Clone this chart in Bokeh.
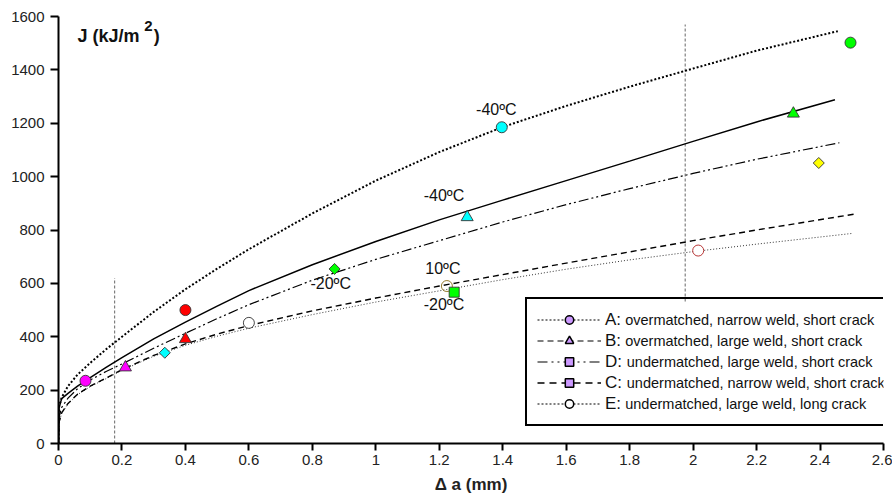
from bokeh.plotting import figure
from bokeh.models import ColumnDataSource, Legend, LegendItem, Label, Range1d, FixedTicker
from bokeh.core.properties import value
from bokeh.embed import file_html
from bokeh.resources import INLINE
import numpy as np

FONT = "Liberation Sans"

# ---------------- data ----------------
# fitted J-R curves (x = crack growth in mm, J in kJ/m^2)
a_A = [0, 0.002, 0.01, 0.03, 0.06, 0.1, 0.15, 0.2, 0.3, 0.4, 0.5, 0.6, 0.8, 1.0, 1.2, 1.4, 1.6, 1.8, 2.0, 2.2, 2.456]
J_A = [0, 140, 172, 215, 258, 302, 353, 400, 493, 578, 655, 728, 862, 985, 1092, 1186, 1265, 1337, 1405, 1472, 1545]

a_B = [0, 0.002, 0.01, 0.03, 0.06, 0.1, 0.15, 0.2, 0.3, 0.4, 0.5, 0.6, 0.8, 1.0, 1.2, 1.4, 1.6, 1.8, 2.0, 2.2, 2.447]
J_B = [0, 135, 168, 188, 215, 247, 285, 322, 392, 455, 515, 573, 670, 757, 838, 912, 985, 1058, 1132, 1205, 1288]

a_D = [0, 0.002, 0.01, 0.03, 0.06, 0.1, 0.15, 0.2, 0.3, 0.4, 0.5, 0.6, 0.8, 1.0, 1.2, 1.4, 1.6, 1.8, 2.0, 2.2, 2.461]
J_D = [0, 100, 135, 170, 205, 238, 270, 298, 357, 413, 468, 520, 612, 690, 760, 830, 895, 955, 1012, 1065, 1127]

a_C = [0, 0.002, 0.01, 0.03, 0.06, 0.1, 0.15, 0.2, 0.3, 0.4, 0.5, 0.6, 0.8, 1.0, 1.2, 1.4, 1.6, 1.8, 2.0, 2.2, 2.516]
J_C = [0, 80, 115, 150, 185, 215, 245, 277, 330, 373, 410, 442, 497, 545, 590, 633, 676, 718, 760, 800, 861]

a_E = [0, 0.002, 0.01, 0.03, 0.06, 0.1, 0.15, 0.2, 0.3, 0.4, 0.5, 0.6, 0.8, 1.0, 1.2, 1.4, 1.6, 1.8, 2.0, 2.2, 2.50]
J_E = [0, 80, 113, 148, 183, 213, 243, 274, 327, 368, 402, 432, 483, 530, 572, 614, 653, 688, 719, 747, 787]

# measured points
pt_a = [0.085, 0.211, 0.335, 0.400, 0.400, 0.600, 0.870, 1.288, 1.224, 1.247, 1.397, 2.016, 2.316, 2.396, 2.496]
pt_J = [235, 285, 340, 500, 391, 452, 654, 848, 590, 567, 1185, 723, 1236, 1051, 1502]
pt_marker = ["circle", "triangle", "square", "circle", "triangle", "circle", "square", "triangle",
             "circle", "square", "circle", "circle", "triangle", "square", "circle"]
pt_fill = ["#ff00ff", "#ff00ff", "#00ffff", "#ff0000", "#ff0000", "#ffffff", "#00ff00", "#00ffff",
           "#ffffff", "#00ff00", "#00ffff", "#ffffff", "#00ff00", "#ffff00", "#00ff00"]
pt_fill_alpha = [1, 1, 1, 1, 1, 1, 1, 1, 0, 1, 1, 1, 1, 1, 1]
pt_line = ["#333333"] * 8 + ["#8a6d1a", "#333333", "#333333", "#b02020", "#333333", "#333333", "#333333"]
pt_size = [11, 12, 7.8, 11, 12, 11, 7.8, 12, 11, 10, 11, 11, 12, 7.8, 11]
pt_angle = [0, 0, np.pi / 4, 0, 0, 0, np.pi / 4, 0, 0, 0, 0, 0, 0, np.pi / 4, 0]

# vertical reference lines (the right one disappears behind the legend box)
vline_a = [0.177, 1.975]
vline_bottom = [0, 532]
vline_top = [620, 1570]

# temperature annotations
ann_a = [1.316, 1.151, 0.794, 1.156, 1.151]
ann_J = [1250, 928, 598, 654, 522]
ann_text = ["-40ºC", "-40ºC", "-20ºC", "10ºC", "-20ºC"]

# axes
x_ticks = [0, 0.2, 0.4, 0.6, 0.8, 1.0, 1.2, 1.4, 1.6, 1.8, 2.0, 2.2, 2.4, 2.6]
x_tick_labels = ["0", "0.2", "0.4", "0.6", "0.8", "1", "1.2", "1.4", "1.6", "1.8", "2", "2.2", "2.4", "2.6"]
y_ticks = [0, 200, 400, 600, 800, 1000, 1200, 1400, 1600]

legend_keys = ["A:", "B:", "D:", "C:", "E:"]
legend_texts = ["overmatched, narrow weld, short crack",
                "overmatched, large weld, short crack",
                "undermatched, large weld, short crack",
                "undermatched, narrow weld, short crack",
                "undermatched, large weld, long crack"]

# ---------------- figure ----------------
p = figure(frame_width=825, frame_height=427,
           x_range=Range1d(0, 2.6), y_range=Range1d(0, 1600),
           output_backend="svg", toolbar_location=None,
           min_border_left=58, min_border_right=9, min_border_top=16, min_border_bottom=57,
           background_fill_color="white", border_fill_color="white", outline_line_color=None)
p.grid.visible = False

for ax in (p.xaxis[0], p.yaxis[0]):
    ax.axis_line_width = 2
    ax.axis_line_color = "black"
    ax.major_tick_line_width = 2
    ax.major_tick_line_color = "black"
    ax.major_tick_in = 0
    ax.minor_tick_line_color = None
    ax.major_label_text_font = FONT
    ax.major_label_text_font_size = "15px"
    ax.major_label_text_color = "#222222"

p.xaxis.ticker = FixedTicker(ticks=x_ticks)
p.xaxis.major_label_overrides = {t: l for t, l in zip(x_ticks, x_tick_labels)}
p.xaxis.major_tick_out = 7
p.xaxis.major_label_standoff = 4
p.xaxis.axis_label = "Δ a (mm)"
p.xaxis.axis_label_text_font = FONT
p.xaxis.axis_label_text_font_style = "bold"
p.xaxis.axis_label_text_font_size = "17px"
p.xaxis.axis_label_text_color = "#222222"
p.xaxis.axis_label_standoff = 7

p.yaxis.ticker = FixedTicker(ticks=y_ticks)
p.yaxis.major_tick_out = 8
p.yaxis.major_label_standoff = 6

# vertical dotted reference lines
p.segment(x0=vline_a, y0=vline_bottom, x1=vline_a, y1=vline_top,
          line_color="#666666", line_width=1, line_dash="3 2")

# curves
p.line(a_E, J_E, line_color="#333333", line_width=1, line_dash="1 2")
p.line(a_C, J_C, line_color="black", line_width=1.4, line_dash="6 4")
p.line(a_D, J_D, line_color="black", line_width=1.2, line_dash="10 3 2 3 2 3")
p.line(a_B, J_B, line_color="black", line_width=1.5)
p.line(a_A, J_A, line_color="black", line_width=2, line_dash="2 2")

# points
src = ColumnDataSource(dict(x=pt_a, y=pt_J, marker=pt_marker, fill=pt_fill, fa=pt_fill_alpha,
                            lc=pt_line, size=pt_size, angle=pt_angle))
p.scatter("x", "y", source=src, marker="marker", fill_color="fill", fill_alpha="fa",
          line_color="lc", line_width=0.9, size="size", angle="angle")

# annotations
for xa, ya, t in zip(ann_a, ann_J, ann_text):
    p.add_layout(Label(x=xa, y=ya, text=t, text_font=FONT, text_font_size="16px",
                       text_color="#111111", text_baseline="alphabetic"))

# y title  J (kJ/m2)
p.add_layout(Label(x=0.06, y=1528, text="J (kJ/m", text_font=FONT, text_font_size="18px",
                   text_font_style="bold", text_color="#111111", text_baseline="alphabetic"))
p.add_layout(Label(x=0.27, y=1563, text="2", text_font=FONT, text_font_size="15px",
                   text_font_style="bold", text_color="#111111", text_baseline="alphabetic"))
p.add_layout(Label(x=0.3, y=1528, text=")", text_font=FONT, text_font_size="18px",
                   text_font_style="bold", text_color="#111111", text_baseline="alphabetic"))

# legend (swatches as drawn in the original legend)
lav = "#cc99ff"
leg_styles = [
    dict(dash="2 2", lw=1.2, marker="circle", angle=0),
    dict(dash="6 4", lw=1.2, marker="triangle", angle=0),
    dict(dash="10 4 2 4 2 4", lw=1.2, marker="square", angle=np.pi / 4),
    dict(dash="7 5", lw=1.6, marker="square", angle=0),
    dict(dash="2 2", lw=1.2, marker="circle", angle=0),
]
items = []
for i, (k, st) in enumerate(zip(legend_keys, leg_styles)):
    lr = p.line(x=[np.nan], y=[np.nan], line_color="black", line_width=st["lw"], line_dash=st["dash"])
    fc = "white" if i == 4 else lav
    sr = p.scatter(x=[np.nan], y=[np.nan], marker=st["marker"], angle=st["angle"], fill_color=fc,
                   line_color="black", line_width=1.5)
    items.append(LegendItem(label=value(k), renderers=[lr, sr]))

legend = Legend(items=items, location=(467, 17), orientation="vertical",
                glyph_width=64, glyph_height=21, label_height=20, spacing=0, padding=10,
                label_standoff=4, label_width=300, margin=0,
                label_text_font=FONT, label_text_font_size="17px", label_text_color="#111111",
                border_line_color="black", border_line_width=2.5, border_line_alpha=1,
                background_fill_color="white", background_fill_alpha=0)
p.add_layout(legend)

leg_x = [1.786, 1.786, 1.791, 1.791, 1.786]
for i, t in enumerate(legend_texts):
    p.add_layout(Label(x=leg_x[i], y=462.8 - 78.69 * i, text=t, text_font=FONT,
                       text_font_size="14.5px", text_color="#111111", text_baseline="alphabetic"))

open("out.html", "w").write(file_html(p, INLINE))
